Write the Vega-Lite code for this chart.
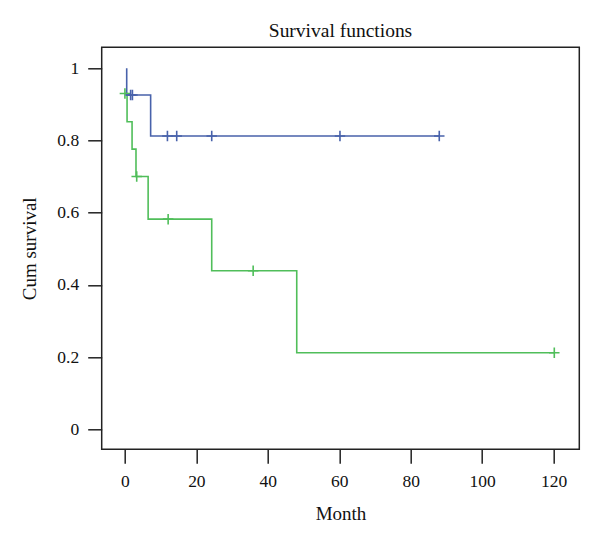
{
  "$schema": "https://vega.github.io/schema/vega-lite/v6.json",
  "autosize": "none",
  "width": 477.6,
  "height": 402,
  "padding": {"left": 101.7, "top": 47.3, "right": 21, "bottom": 95},
  "background": "white",
  "title": {"text": "Survival functions", "font": "Liberation Serif", "fontSize": 19.5, "fontWeight": "normal", "color": "#111", "anchor": "middle", "frame": "group", "baseline": "alphabetic", "offset": -9},
  "config": {
    "view": {"stroke": "#222", "strokeWidth": 1.5},
    "axis": {"labelFont": "Liberation Serif", "titleFont": "Liberation Serif", "labelFontSize": 17.5, "titleFontSize": 19, "titleFontWeight": "normal", "labelColor": "#111", "titleColor": "#111", "domain": false, "grid": false, "tickColor": "#222", "tickWidth": 1.5, "tickSize": 14, "labelPadding": 9}
  },
  "datasets": {
    "curves": [
      {"group": "2", "month": 0, "surv": 0.93},
      {"group": "2", "month": 0.6, "surv": 0.852},
      {"group": "2", "month": 2.0, "surv": 0.776},
      {"group": "2", "month": 3.1, "surv": 0.70},
      {"group": "2", "month": 6.5, "surv": 0.582},
      {"group": "2", "month": 24.3, "surv": 0.439},
      {"group": "2", "month": 48.1, "surv": 0.212},
      {"group": "2", "month": 120.2, "surv": 0.212},
      {"group": "1", "month": 0.5, "surv": 1},
      {"group": "1", "month": 0.5, "surv": 0.926},
      {"group": "1", "month": 7.2, "surv": 0.8125},
      {"group": "1", "month": 88.0, "surv": 0.8125}
    ],
    "censored": [
      {"group": "2", "month": 0, "surv": 0.93},
      {"group": "2", "month": 3.3, "surv": 0.70},
      {"group": "2", "month": 12.1, "surv": 0.582},
      {"group": "2", "month": 35.9, "surv": 0.439},
      {"group": "2", "month": 120.2, "surv": 0.212},
      {"group": "1", "month": 1.6, "surv": 0.926},
      {"group": "1", "month": 2.1, "surv": 0.926},
      {"group": "1", "month": 11.9, "surv": 0.8125},
      {"group": "1", "month": 14.5, "surv": 0.8125},
      {"group": "1", "month": 24.3, "surv": 0.8125},
      {"group": "1", "month": 60.2, "surv": 0.8125},
      {"group": "1", "month": 88.0, "surv": 0.8125}
    ]
  },
  "encoding": {
    "x": {"field": "month", "type": "quantitative", "scale": {"domain": [-6.5, 127.2], "nice": false, "zero": false},
      "axis": {"values": [0, 20, 40, 60, 80, 100, 120], "title": "Month", "titleX": 238.8, "titleY": 64, "titleBaseline": "middle", "titleAlign": "center"}},
    "y": {"field": "surv", "type": "quantitative", "scale": {"domain": [-0.0554, 1.058], "nice": false, "zero": false},
      "axis": {"values": [0, 0.2, 0.4, 0.6, 0.8, 1], "labelExpr": "datum.value + ''", "title": "Cum survival", "titleX": -72, "titleY": 201, "titleBaseline": "middle", "titleAlign": "center", "titleAngle": 270}},
    "color": {"field": "group", "type": "nominal", "scale": {"domain": ["1", "2"], "range": ["#4862ab", "#50be5a"]}, "legend": null}
  },
  "layer": [
    {"data": {"name": "curves"}, "mark": {"type": "line", "interpolate": "step-after", "strokeWidth": 1.6}},
    {"data": {"name": "censored"}, "mark": {"type": "point", "shape": "M-1,0H1M0,-1V1", "filled": false, "size": 110, "strokeWidth": 1.6, "opacity": 1}}
  ]
}
